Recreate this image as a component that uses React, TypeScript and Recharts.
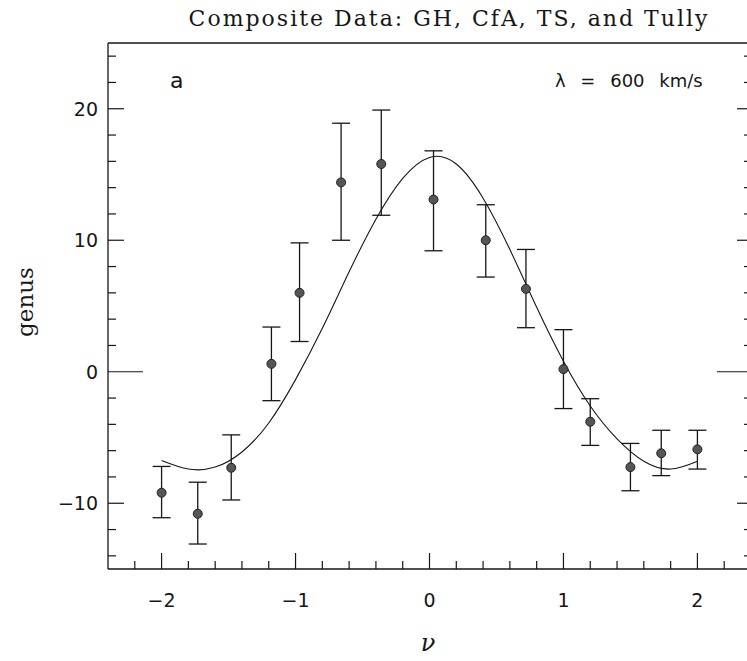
import React from 'react';
import { ComposedChart, Line, Scatter, ErrorBar, XAxis, YAxis } from 'recharts';

// measured points (nu, genus, error-bar bounds)
const nu = [-2.0, -1.73, -1.48, -1.18, -0.97, -0.66, -0.36, 0.03, 0.42, 0.72, 1.0, 1.2, 1.5, 1.73, 2.0];
const genus = [-9.2, -10.8, -7.3, 0.6, 6.0, 14.4, 15.8, 13.1, 10.0, 6.3, 0.2, -3.8, -7.25, -6.2, -5.9];
const genusLow = [-11.1, -13.1, -9.75, -2.2, 2.3, 10.0, 11.9, 9.2, 7.2, 3.35, -2.8, -5.6, -9.05, -7.9, -7.4];
const genusHigh = [-7.2, -8.4, -4.8, 3.4, 9.8, 18.9, 19.9, 16.8, 12.7, 9.3, 3.2, -2.05, -5.45, -4.45, -4.45];

// fitted curve
const fitNu = [-2.0, -1.8, -1.6, -1.4, -1.2, -1.0, -0.8, -0.6, -0.4, -0.2, 0.0, 0.2, 0.4, 0.6, 0.8, 1.0, 1.2, 1.4, 1.6, 1.8, 2.0];
const fitGenus = [-6.75, -7.4, -7.25, -6.1, -3.9, -0.6, 3.3, 7.6, 11.6, 14.7, 16.3, 15.8, 13.2, 9.3, 4.9, 0.8, -2.6, -5.1, -6.8, -7.4, -6.8];

const xTicks = [-2.2, -2.0, -1.8, -1.6, -1.4, -1.2, -1.0, -0.8, -0.6, -0.4, -0.2, 0, 0.2, 0.4, 0.6, 0.8, 1.0, 1.2, 1.4, 1.6, 1.8, 2.0, 2.2];
const yTicks = [-14, -12, -10, -8, -6, -4, -2, 0, 2, 4, 6, 8, 10, 12, 14, 16, 18, 20, 22, 24];

const points = nu.map((n, i) => ({
  nu: n,
  g: genus[i],
  err: [genus[i] - genusLow[i], genusHigh[i] - genus[i]],
}));
const fit = fitNu.map((n, i) => ({ nu: n, g: fitGenus[i] }));

const INK = '#161616';
const labelFont = '"DejaVu Sans", sans-serif';
const serif = '"DejaVu Serif", serif';

const isMajorX = (v: number) => Math.abs(v - Math.round(v)) < 1e-6;
const isMajorY = (v: number) => v % 10 === 0;
const fmt = (v: number) => (v < 0 ? '\u2212' + Math.abs(Math.round(v)) : String(Math.round(v)));

const BottomTick = ({ x, y, payload }: any) => {
  const major = isMajorX(payload.value);
  return (
    <g>
      <line x1={x} x2={x} y1={y} y2={y - (major ? 16 : 8)} stroke={INK} strokeWidth={1.2} />
      {major && (
        <text x={x} y={y + 38} textAnchor="middle" fontFamily={labelFont} fontSize={19} fill={INK}>
          {fmt(payload.value)}
        </text>
      )}
    </g>
  );
};

const TopTick = ({ x, y, payload }: any) => {
  const major = isMajorX(payload.value);
  return <line x1={x} x2={x} y1={y} y2={y + (major ? 15 : 7)} stroke={INK} strokeWidth={1.2} />;
};

const LeftTick = ({ x, y, payload }: any) => {
  const v = payload.value;
  const len = v === 0 ? 35 : isMajorY(v) ? 16 : 8;
  return (
    <g>
      <line x1={x} x2={x + len} y1={y} y2={y} stroke={INK} strokeWidth={1.2} />
      {isMajorY(v) && (
        <text x={x - 10} y={y + 7} textAnchor="end" fontFamily={labelFont} fontSize={19} fill={INK}>
          {fmt(v)}
        </text>
      )}
    </g>
  );
};

const RightTick = ({ x, y, payload }: any) => {
  const v = payload.value;
  const len = v === 0 ? 34 : isMajorY(v) ? 14 : 7;
  return <line x1={x} x2={x - len} y1={y} y2={y} stroke={INK} strokeWidth={1.2} />;
};

const Dot = ({ cx, cy }: any) => (
  <circle cx={cx} cy={cy} r={4.5} fill="#555" stroke="#222" strokeWidth={1} />
);

export default function App() {
  return (
    <div style={{ position: 'fixed', left: 0, top: 0, width: 747, height: 661, overflow: 'hidden', background: '#fff' }}>
      <div
        style={{
          position: 'absolute',
          left: 449,
          top: 18,
          transform: 'translate(-50%, -50%)',
          fontFamily: serif,
          fontSize: 22,
          letterSpacing: 2,
          color: INK,
          whiteSpace: 'nowrap',
        }}
      >
        Composite Data: GH, CfA, TS, and Tully
      </div>
      <ComposedChart width={760} height={661} margin={{ top: 30, right: 0, bottom: 32, left: 48 }}>
        <XAxis
          dataKey="nu"
          type="number"
          domain={[-2.4, 2.4]}
          ticks={xTicks}
          interval={0}
          tickSize={0}
          tickMargin={0}
          tickLine={false}
          tick={BottomTick}
          axisLine={{ stroke: INK, strokeWidth: 1.3 }}
          height={60}
          allowDataOverflow
        />
        <XAxis
          xAxisId="top"
          orientation="top"
          type="number"
          domain={[-2.4, 2.4]}
          ticks={xTicks}
          interval={0}
          tickSize={0}
          tickMargin={0}
          tickLine={false}
          tick={TopTick}
          axisLine={{ stroke: INK, strokeWidth: 1.3 }}
          height={13}
          allowDataOverflow
        />
        <YAxis
          dataKey="g"
          type="number"
          domain={[-15, 25]}
          ticks={yTicks}
          interval={0}
          tickSize={0}
          tickMargin={0}
          tickLine={false}
          tick={LeftTick}
          axisLine={{ stroke: INK, strokeWidth: 1.3 }}
          width={60}
          allowDataOverflow
        />
        <YAxis
          yAxisId="right"
          orientation="right"
          type="number"
          domain={[-15, 25]}
          ticks={yTicks}
          interval={0}
          tickSize={0}
          tickMargin={0}
          tickLine={false}
          tick={RightTick}
          axisLine={{ stroke: INK, strokeWidth: 1.3 }}
          width={9}
          allowDataOverflow
        />
        <Line
          data={fit}
          dataKey="g"
          type="natural"
          stroke={INK}
          strokeWidth={1.1}
          dot={false}
          isAnimationActive={false}
        />
        <Scatter data={points} dataKey="g" shape={Dot} isAnimationActive={false}>
          <ErrorBar dataKey="err" direction="y" width={9} stroke={INK} strokeWidth={1.3} />
        </Scatter>
      </ComposedChart>
      <div style={{ position: 'absolute', left: 170, top: 68, fontFamily: labelFont, fontSize: 22, color: INK }}>a</div>
      <div style={{ position: 'absolute', left: 555, top: 70, fontFamily: labelFont, fontSize: 18, wordSpacing: 9, color: INK, whiteSpace: 'nowrap' }}>
        λ = 600 km/s
      </div>
      <div
        style={{
          position: 'absolute',
          left: 25,
          top: 302,
          transform: 'translate(-50%, -50%) rotate(-90deg)',
          fontFamily: serif,
          fontSize: 23,
          color: INK,
          whiteSpace: 'nowrap',
        }}
      >
        genus
      </div>
      <div style={{ position: 'absolute', left: 428, top: 643, transform: 'translate(-50%, -50%)', fontFamily: serif, fontStyle: 'italic', fontSize: 24, color: INK }}>
        ν
      </div>
    </div>
  );
}
